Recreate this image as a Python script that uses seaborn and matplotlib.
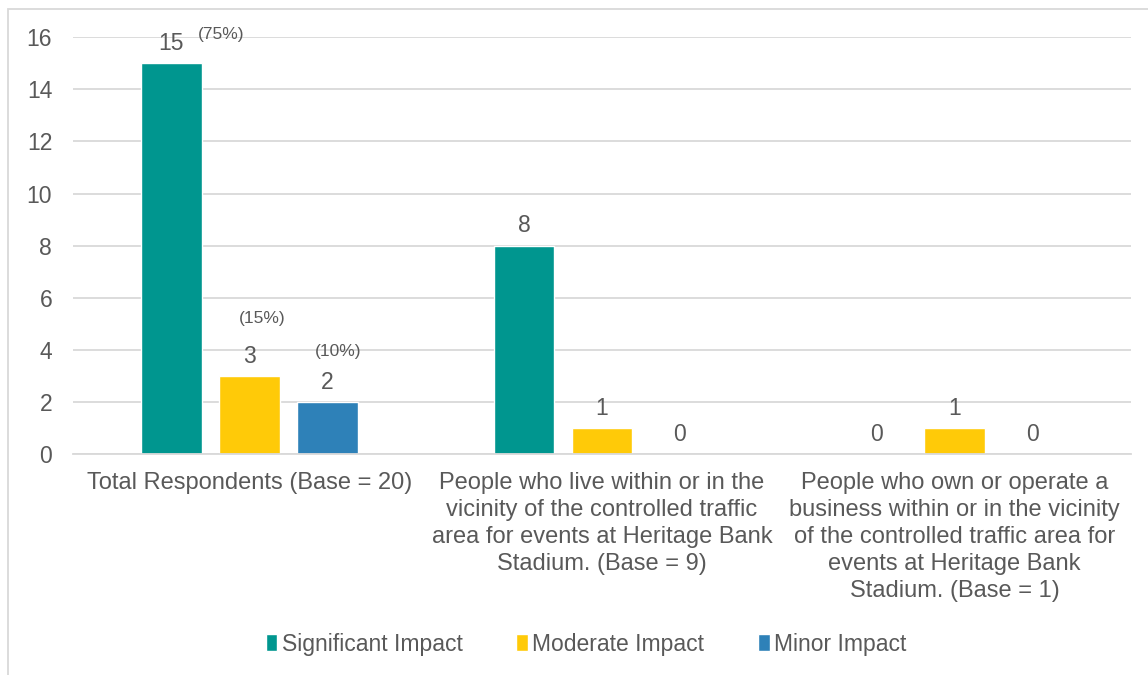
import pandas as pd
import matplotlib.pyplot as plt
import matplotlib.patches as mpatches
import seaborn as sns

# chart data
groups = [
    'Total Respondents (Base = 20)',
    'People who live within or in the\nvicinity of the controlled traffic\narea for events at Heritage Bank\nStadium. (Base = 9)',
    'People who own or operate a\nbusiness within or in the vicinity\nof the controlled traffic area for\nevents at Heritage Bank\nStadium. (Base = 1)',
]
impacts = ['Significant Impact', 'Moderate Impact', 'Minor Impact']
significant = [15, 8, 0]
moderate = [3, 1, 1]
minor = [2, 0, 0]
# percentages shown only for total respondents
total_pct = ['(75%)', '(15%)', '(10%)']
colors = ['#00968F', '#FFCA08', '#2E81B8']

rows = []
for imp, vals in zip(impacts, [significant, moderate, minor]):
    for g, v in zip(groups, vals):
        rows.append({'Group': g, 'Impact': imp, 'Count': v})
df = pd.DataFrame(rows)

sns.set_theme(style="white")
plt.rcParams['font.family'] = ['Liberation Sans', 'DejaVu Sans']
text_col = '#595959'
fs = 16.5

fig = plt.figure(figsize=(11.48, 6.75), dpi=100)
ax = fig.add_axes([0.0636, 0.327, 0.9216, 0.618])

sns.barplot(data=df, x='Group', y='Count', hue='Impact', palette=colors,
            saturation=1, width=0.663, gap=0.22, ax=ax, legend=True)

ax.set_ylim(0, 16)
ax.set_yticks(range(0, 17, 2))
ax.yaxis.grid(True, color='#d9d9d9', linewidth=1.3)
ax.set_axisbelow(True)
for s in ['top', 'right', 'left']:
    ax.spines[s].set_visible(False)
ax.spines['bottom'].set_color('#d9d9d9')
ax.spines['bottom'].set_linewidth(1.3)
ax.tick_params(axis='y', length=0, pad=15, labelsize=fs, labelcolor=text_col)
ax.tick_params(axis='x', length=0, pad=13, labelsize=17, labelcolor=text_col)
for lbl in ax.get_xticklabels():
    lbl.set_linespacing(1.29)
ax.set_xlabel('')
ax.set_ylabel('')

for cont in ax.containers:
    ax.bar_label(cont, fmt='%d', padding=6, fontsize=fs, color=text_col)

# percentage labels for the first group
pct_offsets = [(36, 15.5), (9, 36), (8, 31)]
for cont, pct, off in zip(ax.containers, total_pct, pct_offsets):
    bar = cont.patches[0]
    ax.annotate(pct, (bar.get_x() + bar.get_width() / 2, bar.get_height()),
                xytext=off, textcoords='offset points', ha='center', va='bottom',
                fontsize=12.5, color=text_col)

leg = ax.legend(loc='center', bbox_to_anchor=(0.485, -0.455), ncol=3, frameon=False,
                prop={'size': 16.5}, handlelength=0.5, handleheight=0.8,
                handletextpad=0.2, columnspacing=2.35, labelcolor=text_col)

# light frame around the chart
fig.patches.append(mpatches.Rectangle((7.5 / 1148, -0.05), 1.1, 1.05 - 9 / 675,
                                      transform=fig.transFigure, fill=False,
                                      edgecolor='#d9d9d9', linewidth=1.3))

fig.savefig('out.png', dpi=100)
